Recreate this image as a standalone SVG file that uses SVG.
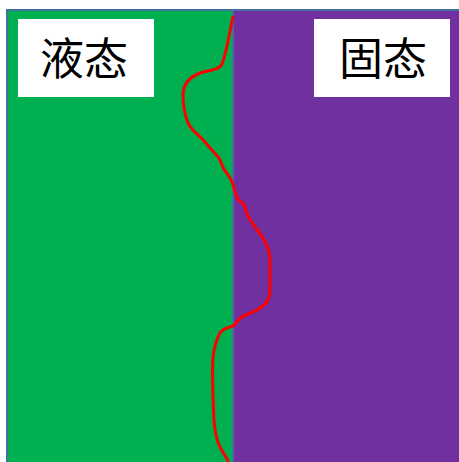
<svg xmlns="http://www.w3.org/2000/svg" width="459" height="462" viewBox="0 0 459 462">
<style>
.lbl{fill:#ffffff;stroke:none}
.txt{font-family:"Noto Sans CJK SC","Noto Sans CJK JP",sans-serif;font-size:44px;fill:#000000;text-anchor:middle}
</style>
<rect x="0" y="0" width="459" height="462" fill="#ffffff"/>
<g id="liquid">
<rect x="7" y="10" width="226" height="460" fill="#00B050" stroke="#41719C" stroke-width="2"/>
</g>
<g id="solid">
<rect x="233" y="10" width="236" height="460" fill="#7030A0" stroke="#41719C" stroke-width="2"/>
</g>
<g id="interface">
<path d="M233,17 C229,35 226,55 222,64 C219,70 210,70 200,73 C190,77 183,84 183,95 C183,105 185,115 188,123 C192,131 200,136 205,142 C210,148 214,152 219,158 C222,163 222,168 226,172 C230,177 232,180 234,188 C236,196 237,199 241,202 C246,205 245,209 247,214 C249,220 257,229 263,238 C268,246 270,252 270,260 L270,285 C270,295 269,301 264,305 C258,310 252,313 245,315 C238,318 237,323 233,326 C228,328 223,328 220,333 C216,340 214,350 213,357 C212,375 213,400 214,420 C215,435 217,442 221,449 C224,454 226,457 228,461" fill="none" stroke="#FF0000" stroke-width="3" stroke-linecap="round" stroke-linejoin="round"/>
</g>
<g id="label-liquid">
<rect class="lbl" x="18" y="19" width="136" height="78"/>
<text class="txt" x="84" y="75">液态</text>
</g>
<g id="label-solid">
<rect class="lbl" x="314" y="19" width="136" height="78"/>
<text class="txt" x="383" y="75">固态</text>
</g>
</svg>
